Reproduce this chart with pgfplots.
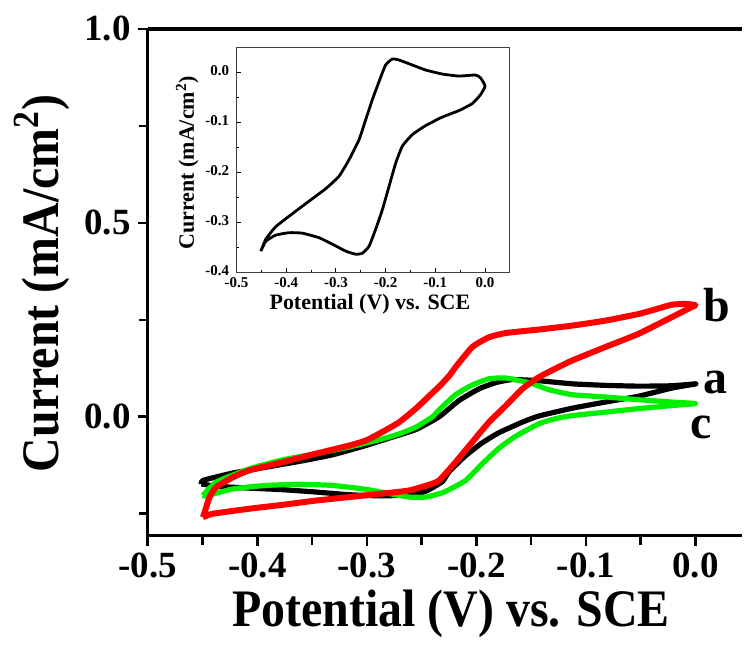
\documentclass[border=0pt]{standalone}
\usepackage{fontspec}
\setmainfont{Liberation Serif}
\usepackage{pgfplots}
\pgfplotsset{compat=1.18}
\definecolor{cvred}{RGB}{255,0,0}
\definecolor{cvgreen}{RGB}{0,240,0}

\begin{document}
\begin{tikzpicture}[x=1pt,y=1pt]
\path (0,0) rectangle (372,322.5);
% main CV plot
\begin{axis}[
  at={(74pt,54pt)}, anchor=south west,
  scale only axis, width=298pt, height=254pt,
  xmin=-0.5, xmax=0.0428, ymin=-0.307, ymax=1.0,
  axis x line*=box, axis y line*=left,
  xtick={-0.5,-0.4,-0.3,-0.2,-0.1,0},
  xticklabels={-0.5,-0.4,-0.3,-0.2,-0.1,0.0},
  ytick={0,0.5,1}, yticklabels={0.0,0.5,1.0},
  minor xtick={-0.45,-0.35,-0.25,-0.15,-0.05},
  minor ytick={-0.25,0.25,0.75},
  xtick pos=left, ytick pos=left,
  tick align=outside,
  major tick length=5pt, minor tick length=4.5pt,
  tick style={line width=1.3pt, black},
  axis line style={line width=1.6pt},
  tick label style={font=\fontsize{18.5}{20}\selectfont\bfseries},
  clip=false,
  line join=round,
]
\addplot[black, line width=2.6pt, smooth, tension=0.3] coordinates {
(-0.451,-0.173) (-0.4374,-0.179) (-0.4071,-0.184) (-0.3768,-0.188) (-0.3464,-0.194)
(-0.316,-0.201) (-0.2857,-0.204) (-0.2614,-0.201) (-0.2462,-0.192) (-0.231,-0.167)
(-0.225,-0.142) (-0.2097,-0.100) (-0.1946,-0.067) (-0.1794,-0.041) (-0.1582,-0.014)
(-0.143,0.002) (-0.1127,0.022) (-0.0822,0.038) (-0.052,0.053) (-0.0216,0.074)
(-0.0034,0.083) (0.0,0.085)
(-0.0216,0.080) (-0.052,0.079) (-0.082,0.081) (-0.1127,0.085) (-0.143,0.093)
(-0.1674,0.096) (-0.1824,0.088) (-0.1976,0.072) (-0.2158,0.042) (-0.234,0.000)
(-0.2553,-0.033) (-0.2796,-0.055) (-0.3008,-0.074) (-0.3312,-0.098) (-0.3616,-0.115)
(-0.392,-0.130) (-0.4223,-0.145) (-0.4496,-0.164) (-0.451,-0.173)
};
\addplot[cvgreen, line width=2.6pt, smooth, tension=0.3] coordinates {
(-0.4496,-0.203) (-0.4466,-0.204) (-0.4223,-0.186) (-0.392,-0.177) (-0.3616,-0.174)
(-0.3312,-0.177) (-0.3008,-0.187) (-0.2796,-0.198) (-0.2614,-0.207) (-0.2462,-0.207)
(-0.231,-0.196) (-0.225,-0.188) (-0.2097,-0.164) (-0.1946,-0.121) (-0.1794,-0.081)
(-0.164,-0.050) (-0.143,-0.018) (-0.128,-0.005) (-0.1127,0.003) (-0.0822,0.012)
(-0.052,0.021) (-0.0216,0.029) (0.0,0.034)
(-0.0216,0.038) (-0.052,0.044) (-0.0822,0.051) (-0.1127,0.057) (-0.134,0.070)
(-0.152,0.088) (-0.173,0.100) (-0.1885,0.098) (-0.2037,0.082) (-0.219,0.057)
(-0.234,0.018) (-0.240,0.000) (-0.2553,-0.027) (-0.2705,-0.044) (-0.2857,-0.057)
(-0.316,-0.078) (-0.3464,-0.095) (-0.3768,-0.111) (-0.4071,-0.134) (-0.4374,-0.168)
(-0.4496,-0.203)
};
\addplot[cvred, line width=3pt, smooth, tension=0.3] coordinates {
(-0.4496,-0.259) (-0.4405,-0.250) (-0.4071,-0.237) (-0.3768,-0.227) (-0.3464,-0.216)
(-0.316,-0.207) (-0.2857,-0.198) (-0.2614,-0.190) (-0.243,-0.175) (-0.234,-0.164)
(-0.219,-0.117) (-0.2037,-0.065) (-0.1885,-0.014) (-0.173,0.029) (-0.158,0.072)
(-0.143,0.102) (-0.128,0.124) (-0.1127,0.145) (-0.0822,0.180) (-0.052,0.214)
(-0.0216,0.257) (-0.0034,0.283) (0.0,0.288)
(-0.0094,0.291) (-0.0216,0.289) (-0.0367,0.277) (-0.052,0.265) (-0.0822,0.248)
(-0.1127,0.235) (-0.143,0.225) (-0.173,0.216) (-0.1885,0.205) (-0.2037,0.180)
(-0.219,0.128) (-0.225,0.105) (-0.234,0.078) (-0.240,0.062) (-0.2553,0.021)
(-0.2705,-0.014) (-0.2857,-0.039) (-0.3008,-0.061) (-0.316,-0.074) (-0.3464,-0.095)
(-0.3768,-0.117) (-0.4071,-0.138) (-0.4223,-0.156) (-0.4374,-0.181) (-0.4435,-0.207)
(-0.448,-0.246) (-0.4496,-0.259)
};
\node[font=\fontsize{24}{28}\selectfont\bfseries] at (axis cs:0.019,0.289) {b};
\node[font=\fontsize{24}{28}\selectfont\bfseries] at (axis cs:0.018,0.088) {a};
\node[font=\fontsize{24}{28}\selectfont\bfseries] at (axis cs:0.005,-0.027) {c};
\node[font=\fontsize{24}{28}\selectfont\bfseries, anchor=center]
  at (axis description cs:0.51,-0.1535) {\scalebox{1}[1.1]{Potential (V) vs. SCE}};
\node[font=\fontsize{24}{28}\selectfont\bfseries, anchor=center, rotate=90]
  at (axis description cs:-0.178,0.498) {\scalebox{1}[1.1]{Current (mA/cm\textsuperscript{2})}};
\end{axis}
% inset
\begin{axis}[
  at={(118.5pt,185.85pt)}, anchor=south west,
  scale only axis, width=137pt, height=112.85pt,
  xmin=-0.5, xmax=0.05, ymin=-0.4, ymax=0.05,
  xtick={-0.5,-0.4,-0.3,-0.2,-0.1,0},
  xticklabels={-0.5,-0.4,-0.3,-0.2,-0.1,0.0},
  ytick={-0.4,-0.3,-0.2,-0.1,0},
  yticklabels={-0.4,-0.3,-0.2,-0.1,0.0},
  minor x tick num=1, minor y tick num=1,
  xtick pos=left, ytick pos=left,
  tick align=inside,
  major tick length=2.5pt, minor tick length=1.5pt,
  tick style={line width=0.5pt, black},
  axis line style={line width=0.6pt, black!75},
  tick label style={font=\fontsize{7.5}{9}\selectfont\bfseries},
  xticklabel style={inner sep=0.8pt, yshift=-1.2pt},
  yticklabel style={inner sep=1.5pt, xshift=-2pt, yshift=1pt},
  clip=false,
  line join=round,
]
\addplot[black, line width=1.4pt, smooth, tension=0.3] coordinates {
(-0.451,-0.357) (-0.441,-0.333) (-0.421,-0.308) (-0.3874,-0.282) (-0.354,-0.257)
(-0.3204,-0.232) (-0.2936,-0.207) (-0.2735,-0.174) (-0.2534,-0.134) (-0.240,-0.094)
(-0.2266,-0.054) (-0.2132,-0.018) (-0.200,0.015) (-0.1865,0.027) (-0.173,0.025)
(-0.1462,0.015) (-0.1194,0.005) (-0.086,-0.003) (-0.0525,-0.007) (-0.019,-0.005)
(-0.0089,-0.011) (0.0,-0.027)
(-0.0089,-0.044) (-0.0257,-0.062) (-0.0525,-0.076) (-0.086,-0.089) (-0.1194,-0.106)
(-0.1462,-0.124) (-0.1663,-0.147) (-0.1797,-0.181) (-0.193,-0.227) (-0.2065,-0.274)
(-0.220,-0.313) (-0.2333,-0.347) (-0.2467,-0.361) (-0.260,-0.363) (-0.280,-0.357)
(-0.307,-0.343) (-0.334,-0.330) (-0.3674,-0.321) (-0.394,-0.320) (-0.421,-0.325)
(-0.441,-0.337) (-0.451,-0.357)
};
\node[font=\fontsize{11}{13}\selectfont\bfseries, anchor=center]
  at (axis description cs:0.488,-0.14) {Potential (V) vs. SCE};
\node[font=\fontsize{11}{13}\selectfont\bfseries, anchor=center, rotate=90]
  at (axis description cs:-0.18,0.489) {Current (mA/cm\textsuperscript{2})};
\end{axis}
\end{tikzpicture}
\end{document}
